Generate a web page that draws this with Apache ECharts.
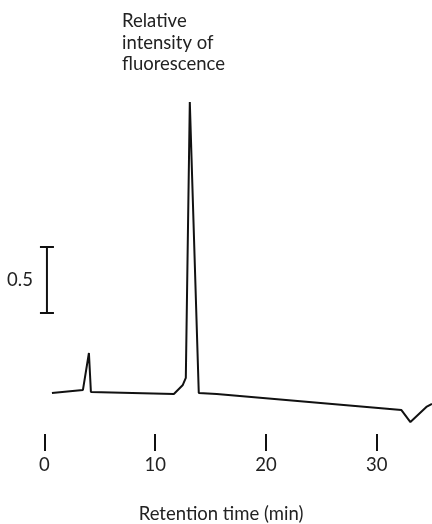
<!DOCTYPE html>
<html>
<head>
<meta charset="utf-8">
<script src="https://cdn.jsdelivr.net/npm/echarts@6/dist/echarts.min.js"></script>
<style>
html,body{margin:0;padding:0;background:#fff;}
#chart{width:432px;height:524px;}
</style>
</head>
<body>
<div id="chart"></div>
<script>
// Retention time (min) and relative fluorescence intensity of the trace
var timeMin = [0.68, 3.48, 4.02, 4.2, 11.69, 12.5, 12.77, 13.13, 13.94, 15.56, 32.24, 33.05, 34.49, 35.0];
var intensity = [0.053, 0.076, 0.356, 0.061, 0.045, 0.114, 0.167, 2.258, 0.053, 0.045, -0.076, -0.167, -0.053, -0.03];
// x-axis tick labels
var xTicks = [0, 10, 20, 30];
// scale bar: [time position, bottom value, top value], label
var scaleBar = [[0.23, 0.659, 1.159]];
var scaleLabel = '0.5';
var yTitle = 'Relative\nintensity of\nfluorescence';
var xTitle = 'Retention time (min)';

var FONT = 'Lato, "Open Sans", sans-serif';
var FS = 18.5;
var trace = timeMin.map(function (t, i) { return [t, intensity[i]]; });

var chart = echarts.init(document.getElementById('chart'), null, {renderer: 'canvas'});
chart.setOption({
  animation: false,
  backgroundColor: '#fff',
  grid: {left: 44.4, top: 70, width: 388, bottom: 73, containLabel: false},
  xAxis: {
    type: 'value', min: 0, max: 35, interval: 10,
    axisLine: {show: false, onZero: false},
    splitLine: {show: false},
    axisTick: {show: true, inside: true, length: 17, customValues: xTicks,
      lineStyle: {color: '#111', width: 2}},
    axisLabel: {
      margin: 5, color: '#222', fontSize: FS, fontFamily: FONT,
      customValues: xTicks
    }
  },
  yAxis: {type: 'value', min: -0.3864, max: 2.5, show: false},
  series: [
    {
      type: 'line', data: trace, symbol: 'none', clip: false,
      lineStyle: {color: '#111', width: 2}
    },
    {
      type: 'custom', data: scaleBar, clip: false,
      renderItem: function (params, api) {
        var top = api.coord([api.value(0), api.value(2)]);
        var bot = api.coord([api.value(0), api.value(1)]);
        var cap = 7;
        var st = {stroke: '#111', lineWidth: 2};
        return {
          type: 'group', children: [
            {type: 'line', shape: {x1: top[0], y1: top[1], x2: bot[0], y2: bot[1]}, style: st},
            {type: 'line', shape: {x1: top[0] - cap, y1: top[1], x2: top[0] + cap, y2: top[1]}, style: st},
            {type: 'line', shape: {x1: bot[0] - cap, y1: bot[1], x2: bot[0] + cap, y2: bot[1]}, style: st},
            {type: 'text', x: top[0] - 14, y: (top[1] + bot[1]) / 2,
              style: {text: scaleLabel, fill: '#222', fontSize: FS, fontFamily: FONT, align: 'right', verticalAlign: 'middle'}}
          ]
        };
      }
    }
  ],
  graphic: [
    {type: 'text', left: 122, top: 10,
      style: {text: yTitle, fill: '#222', fontSize: FS, lineHeight: 21.7, fontFamily: FONT}},
    {type: 'text', x: 221, y: 514,
      style: {text: xTitle, fill: '#222', fontSize: FS, fontFamily: FONT, align: 'center', verticalAlign: 'middle'}}
  ]
});
</script>
</body>
</html>
